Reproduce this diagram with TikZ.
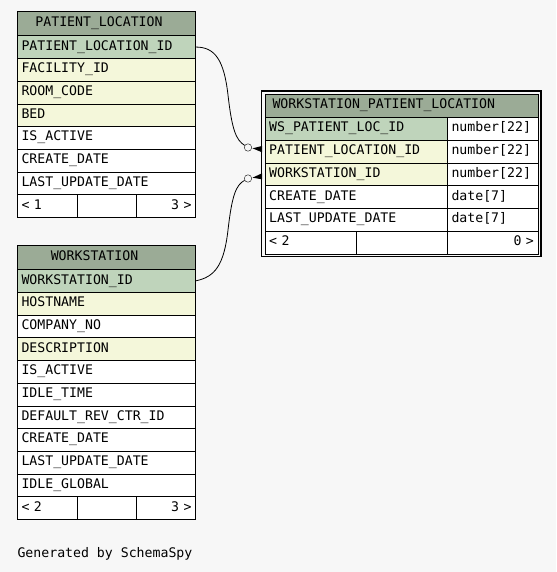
\documentclass[tikz,border=0pt]{standalone}
\usepackage{fontspec}
\usepackage{tikz}
\usetikzlibrary{positioning}
\newfontfamily\spyfont{DejaVu Sans Mono}
\definecolor{spybg}{RGB}{247,247,247}
\definecolor{spyhead}{RGB}{155,171,150}
\definecolor{spypk}{RGB}{191,212,187}
\definecolor{spyidx}{RGB}{244,247,218}

\begin{document}
\begin{tikzpicture}[x=1pt, y=-1pt,
  every node/.style={font=\spyfont\fontsize{13.2}{14}\selectfont},
  cell/.style={draw, fill=white, anchor=north west, inner xsep=4pt, inner ysep=0pt,
    minimum height=22.7pt, text height=9.3pt, text depth=3pt, align=left},
  head/.style={draw, fill=spyhead, anchor=north west, inner sep=0pt},
  crowend/.style={circle, draw, fill=spybg, inner sep=0pt, minimum size=7.4pt}]
\fill[spybg] (0,0) rectangle (556,572);

%--- PATIENT_LOCATION ---
\node[head, minimum width=178pt, minimum height=24.5pt] (pl) at (17.3,11) {};
\node[anchor=base] (pl-title) at (99,26.3) {PATIENT\_LOCATION};
\foreach \nm/\txt/\clr [count=\i from 0] in {id/PATIENT\_LOCATION\_ID/spypk,
    fac/FACILITY\_ID/spyidx, room/ROOM\_CODE/spyidx, bed/BED/spyidx,
    act/IS\_ACTIVE/white, cre/CREATE\_DATE/white, upd/LAST\_UPDATE\_DATE/white}{
  \node[cell, fill=\clr, text width=170pt] (pl-\nm) at (17.3,35.5+22.7*\i) {\txt};
}
% pie di tabella
\node[cell, text width=52pt] (pl-f1) at (17.3,194.4) {<~1};
\node[cell, text width=51pt] (pl-f2) at (77.3,194.4) {};
\node[cell, text width=51pt, align=right] (pl-f3) at (136.3,194.4) {3~>};

%--- WORKSTATION ---
\node[head, minimum width=178pt, minimum height=24.3pt] (ws) at (17.3,245) {};
\node[anchor=base] (ws-title) at (94.5,260.7) {WORKSTATION};
\foreach \nm/\txt/\clr [count=\i from 0] in {id/WORKSTATION\_ID/spypk,
    host/HOSTNAME/spyidx, comp/COMPANY\_NO/white, desc/DESCRIPTION/spyidx,
    act/IS\_ACTIVE/white, idle/IDLE\_TIME/white, rev/DEFAULT\_REV\_CTR\_ID/white,
    cre/CREATE\_DATE/white, upd/LAST\_UPDATE\_DATE/white, glob/IDLE\_GLOBAL/white}{
  \node[cell, fill=\clr, text width=170pt] (ws-\nm) at (17.3,269.3+22.7*\i) {\txt};
}
\node[cell, text width=52pt] (ws-f1) at (17.3,496.3) {<~2};
\node[cell, text width=51pt] (ws-f2) at (77.3,496.3) {};
\node[cell, text width=51pt, align=right] (ws-f3) at (136.3,496.3) {3~>};

%--- WORKSTATION_PATIENT_LOCATION ---
\draw[line width=1.2pt] (261.7,91) rectangle (541,256.7);
\node[head, minimum width=272.7pt, minimum height=23pt] (wpl) at (265,94.3) {};
\node[anchor=base west] (wpl-title) at (269,108.3) {WORKSTATION\_PATIENT\_LOCATION};
\foreach \nm/\txt/\typ/\clr [count=\i from 0] in {id/WS\_PATIENT\_LOC\_ID/number[22]/spypk,
    pl/PATIENT\_LOCATION\_ID/number[22]/spyidx, ws/WORKSTATION\_ID/number[22]/spyidx,
    cre/CREATE\_DATE/date[7]/white, upd/LAST\_UPDATE\_DATE/date[7]/white}{
  \node[cell, fill=\clr, text width=174.3pt] (wpl-\nm) at (265,117.3+22.7*\i) {\txt};
  \node[cell, text width=82.4pt] (wpl-\nm-t) at (447.3,117.3+22.7*\i) {\typ};
}
\node[cell, text width=83.3pt] (wpl-f1) at (265,230.8) {<~2};
\node[cell, text width=83pt] (wpl-f2) at (356.3,230.8) {};
\node[cell, text width=82.4pt, align=right] (wpl-f3) at (447.3,230.8) {0~>};

%--- relazioni ---
\node[crowend] (o1) at (248,147.5) {};
\draw[line width=0.8pt] (pl-id.east) .. controls (215,47) and (224,60) .. (228,95)
  .. controls (232,130) and (236,140) .. (o1);
\fill (252.5,148.3) -- (262,146) -- (262,152.3) -- cycle;
\node[crowend] (o2) at (248,178.5) {};
\draw[line width=0.8pt] (ws-id.east) .. controls (215,277) and (224,265) .. (228,230)
  .. controls (232,195) and (236,185) .. (o2);
\fill (252.5,177.7) -- (262,173.3) -- (262,179.3) -- cycle;

\node[anchor=base west] (gen) at (14,557.5) {Generated by SchemaSpy};
\end{tikzpicture}
\end{document}
